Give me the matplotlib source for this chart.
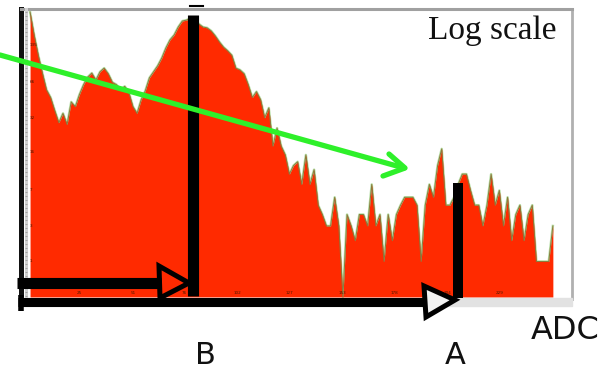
import numpy as np
import matplotlib
matplotlib.use("Agg")
import matplotlib.pyplot as plt
import matplotlib.transforms as mtransforms
from matplotlib.patches import Polygon

# ADC spectrum: counts per 2-channel bin (channels 0..256)
bin_edges = list(range(0, 257, 2))
counts = [
    259, 165, 111, 78, 56, 48, 37, 29, 35, 28,
    44, 40, 51, 62, 72, 78, 68, 80, 86, 77,
    65, 62, 56, 60, 53, 40, 35, 46, 55, 71,
    80, 90, 105, 128, 150, 165, 193, 217, 221, 230,
    226, 205, 193, 190, 179, 162, 144, 130, 121, 111,
    86, 83, 77, 62, 48, 54, 46, 32, 39, 18,
    26, 18, 15, 10, 12, 13, 8, 15, 8, 11,
    5, 4, 3, 3, 6, 3, 0, 4, 3, 2,
    4, 4, 3, 8, 3, 4, 1, 4, 2, 4,
    5, 6, 6, 6, 5, 1, 5, 8, 6, 12,
    17, 5, 5, 6, 8, 10, 10, 7, 5, 5,
    3, 5, 10, 5, 7, 3, 6, 2, 4, 5,
    2, 4, 5, 1, 1, 1, 1, 3,
]
xtick_values = [25, 51, 76, 102, 127, 153, 178, 204, 229]
ytick_values = [1, 3, 7, 16, 32, 66, 135]
marker_b = 80   # channel of marker B
marker_a = 209  # channel of marker A

W, H = 604, 371
fig = plt.figure(figsize=(W / 100, H / 100), dpi=100)
fig.patch.set_facecolor("white")


def fx(px):
    return px / W


def fy(py):
    return 1 - py / H


# spectrum panel
ax = fig.add_axes([fx(21), fy(299), fx(572) - fx(21), fy(9) - fy(299)])
ax.set_yscale("function", functions=(lambda c: np.log10(1 + np.asarray(c)),
                                     lambda v: 10 ** np.asarray(v) - 1))
ax.set_xlim(-3.4, 264.3)
ax.set_ylim(-0.038, 274.8)

edges = np.asarray(bin_edges, dtype=float)
centers = (edges[:-1] + edges[1:]) / 2
ax.plot(centers, counts, color="#b8e0a8", lw=1.8, zorder=1)
ax.fill_between(centers, 0, counts, color="#ff2a00", lw=0, zorder=2)
ax.plot(centers, counts, color="#8a7a3c", lw=0.7, zorder=3)

ax.set_xticks([])
ax.set_yticks([])
ax.minorticks_off()
for side, col, lw in [("top", "#a0a0a0", 2.2), ("right", "#b0b0b0", 2.0),
                      ("left", "#111111", 3.6), ("bottom", "#c8c8c8", 1.0)]:
    ax.spines[side].set_color(col)
    ax.spines[side].set_linewidth(lw)

xb = mtransforms.blended_transform_factory(ax.transData, ax.transAxes)
for v in xtick_values:
    ax.text(v, 0.022, str(v), transform=xb, fontsize=3, color="#4a1a00",
            ha="center", va="center", zorder=4)
yb = mtransforms.blended_transform_factory(ax.transAxes, ax.transData)
for v in ytick_values:
    ax.text(0.016, v, str(v), transform=yb, fontsize=3, color="#4a1a00",
            ha="left", va="center", zorder=4)

# annotation layer in pixel coordinates
ov = fig.add_axes([0, 0, 1, 1], facecolor="none")
ov.set_xlim(0, W)
ov.set_ylim(H, 0)
ov.axis("off")

# ruler strip along the left edge
ov.plot([25.5, 25.5], [9, 297], color="#d0d0d0", lw=2.2, zorder=2)
ov.hlines(np.arange(12, 297, 4), 24.5, 26.5, color="#808080", lw=0.4, zorder=2)
# bottom strip
ov.add_patch(plt.Rectangle((21, 298), 551, 8, color="#e2e2e2", zorder=2))

# marker bars at channels B and A
bt = mtransforms.blended_transform_factory(ax.transData, ov.transData)
ov.plot([marker_b, marker_b], [15, 296], transform=bt, color="black",
        lw=8, solid_capstyle="butt", zorder=5)
ov.plot([marker_a, marker_a], [183, 298], transform=bt, color="black",
        lw=7.2, solid_capstyle="butt", zorder=5)
ov.plot([190, 203], [6, 6], color="black", lw=1.5, zorder=5)

# arrow to B
ov.plot([17, 161], [283, 283], color="black", lw=8, solid_capstyle="butt", zorder=6)
ov.add_patch(Polygon([(159, 266), (160, 298), (189, 283)], closed=True,
                     fill=False, edgecolor="black", lw=3.6, joinstyle="miter",
                     zorder=6))
# arrow to A
ov.plot([18, 424], [302, 302], color="black", lw=6.5, solid_capstyle="butt", zorder=6)
ov.plot([21, 21], [295, 311], color="black", lw=4, solid_capstyle="butt", zorder=6)
ov.add_patch(Polygon([(424, 286), (426, 317), (455, 300)], closed=True,
                     facecolor="#f2f2f2", edgecolor="black", lw=3.6,
                     joinstyle="miter", zorder=6))

# green trend arrow
green = "#2ef02a"
ov.plot([0, 404], [55, 168], color=green, lw=3.8, solid_capstyle="round", zorder=7)
ov.plot([389, 405, 383], [154, 168, 176], color=green, lw=3.8,
        solid_capstyle="round", solid_joinstyle="round", zorder=7)

# labels
ov.text(428, 39, "Log scale", fontsize=24, family="Liberation Serif",
        color="#111111", ha="left", va="baseline", zorder=8)
ov.text(531, 346, "ADC", fontsize=23, family="DejaVu Sans", color="#111111",
        ha="left", va="bottom", zorder=8)
ov.text(205, 370, "B", fontsize=22, family="DejaVu Sans", color="#111111",
        ha="center", va="bottom", zorder=8)
ov.text(455, 370, "A", fontsize=22, family="DejaVu Sans", color="#111111",
        ha="center", va="bottom", zorder=8)

fig.savefig("out.png", dpi=100)
